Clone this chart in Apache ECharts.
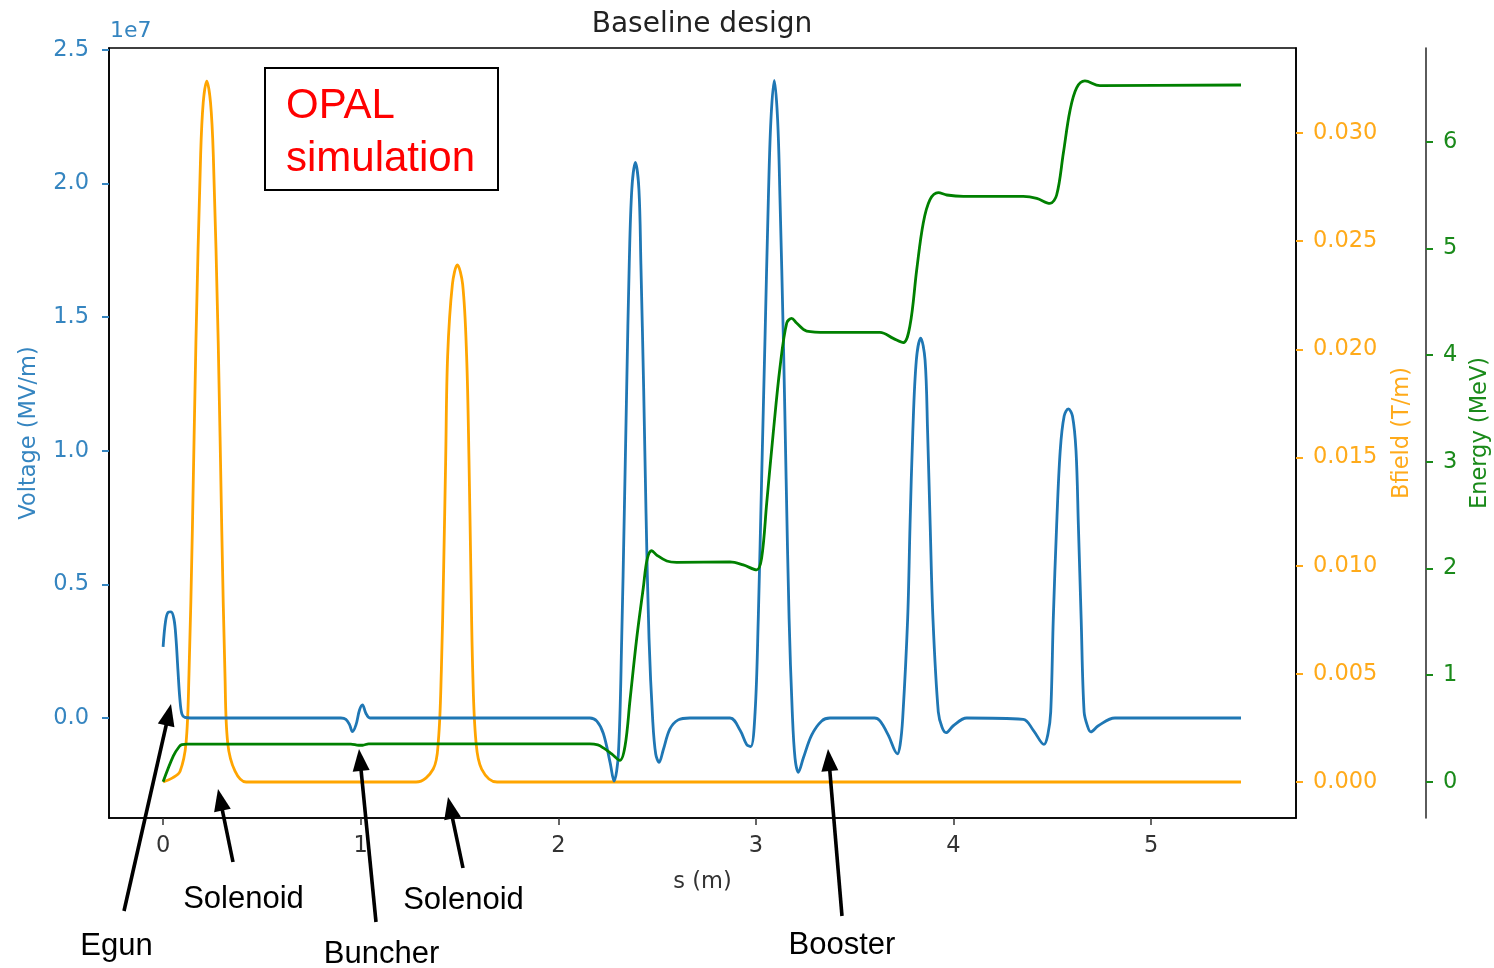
<!DOCTYPE html>
<html><head><meta charset="utf-8">
<script src="https://cdn.jsdelivr.net/npm/echarts@6/dist/echarts.min.js"></script>
<style>html,body{margin:0;padding:0;background:#fff;overflow:hidden}#c{width:1494px;height:968px}</style>
</head><body><div id="c"></div>
<script>
// ---------- data ----------
const TITLE = 'Baseline design';
const S_TICKS = [0, 1, 2, 3, 4, 5];
const VOLT_TICKS = [0, 0.5, 1.0, 1.5, 2.0, 2.5];          // in units of 1e7 V/m
const BFIELD_TICKS = [0, 0.005, 0.010, 0.015, 0.020, 0.025, 0.030];
const ENERGY_TICKS = [0, 1, 2, 3, 4, 5, 6];

// Voltage (x 1e7) vs s (m)
const voltage = [
  [0,0.266],[0.012,0.36],[0.025,0.395],[0.04,0.397],[0.055,0.37],[0.065,0.30],[0.075,0.18],[0.085,0.07],[0.095,0.015],[0.11,0.002],[0.14,0],
  [0.90,0],[0.925,-0.005],[0.944,-0.026],[0.958,-0.051],[0.976,-0.026],[0.994,0.03],[1.009,0.049],[1.026,0.018],[1.047,0],
  [2.16,0],[2.195,-0.012],[2.228,-0.058],[2.262,-0.166],[2.282,-0.236],[2.304,-0.135],[2.321,0.30],[2.334,0.766],[2.346,1.232],[2.359,1.698],[2.372,1.978],[2.390,2.079],[2.408,1.978],[2.418,1.698],[2.432,1.232],[2.444,0.766],[2.459,0.30],[2.478,-0.011],[2.493,-0.135],[2.510,-0.166],[2.531,-0.12],[2.565,-0.041],[2.607,-0.007],[2.666,0],
  [2.869,0],[2.920,-0.046],[2.953,-0.099],[2.974,-0.107],[2.996,0.023],[3.012,0.372],[3.029,0.895],[3.046,1.418],[3.063,1.941],[3.076,2.238],[3.093,2.386],[3.110,2.238],[3.122,1.941],[3.139,1.418],[3.153,0.895],[3.168,0.372],[3.184,0.023],[3.198,-0.15],[3.215,-0.203],[3.240,-0.15],[3.282,-0.064],[3.333,-0.011],[3.375,0],
  [3.600,0],[3.628,-0.011],[3.670,-0.064],[3.716,-0.134],[3.730,-0.10],[3.743,0],[3.768,0.372],[3.780,0.721],[3.794,1.07],[3.812,1.34],[3.834,1.422],[3.856,1.34],[3.869,1.07],[3.882,0.721],[3.896,0.372],[3.923,0.023],[3.942,-0.035],[3.962,-0.055],[3.999,-0.029],[4.067,0],
  [4.353,-0.005],[4.404,-0.046],[4.458,-0.099],[4.478,-0.06],[4.492,0.023],[4.505,0.372],[4.522,0.721],[4.540,1.0],[4.560,1.13],[4.581,1.157],[4.602,1.13],[4.620,1.0],[4.632,0.721],[4.646,0.372],[4.661,0.023],[4.678,-0.03],[4.695,-0.052],[4.733,-0.029],[4.817,0],[5.455,0]
];

// Bfield (T/m) vs s (m)
const bfield = [
  [0,0],[0.05,0.0002],[0.086,0.0005],[0.116,0.0018],[0.131,0.0050],[0.148,0.0116],[0.166,0.0203],[0.190,0.0290],[0.203,0.0314],[0.221,0.0324],[0.240,0.0314],[0.254,0.0290],[0.279,0.0203],[0.297,0.0116],[0.313,0.0050],[0.327,0.0018],[0.364,0.0005],[0.42,0],
  [1.28,0],[1.367,0.0006],[1.393,0.0019],[1.408,0.0051],[1.420,0.0100],[1.430,0.0149],[1.440,0.0197],[1.464,0.0230],[1.489,0.0239],[1.516,0.0230],[1.536,0.0197],[1.548,0.0149],[1.557,0.0100],[1.567,0.0051],[1.583,0.0019],[1.612,0.0006],[1.69,0],[5.455,0]
];

// Energy (MeV) vs s (m)
const energy = [
  [0,0],[0.052,0.243],[0.082,0.33],[0.095,0.348],[0.12,0.352],[0.95,0.352],[0.99,0.342],[1.01,0.342],[1.04,0.355],[2.16,0.355],[2.20,0.345],[2.228,0.317],[2.270,0.26],[2.312,0.20],[2.338,0.337],[2.363,0.766],[2.397,1.347],[2.430,1.816],[2.450,2.088],[2.473,2.165],[2.498,2.125],[2.549,2.069],[2.599,2.056],
  [2.869,2.06],[2.936,2.032],[3.004,1.986],[3.029,2.097],[3.055,2.619],[3.088,3.275],[3.122,3.885],[3.156,4.30],[3.181,4.343],[3.206,4.30],[3.257,4.225],[3.358,4.213],
  [3.628,4.213],[3.695,4.156],[3.746,4.116],[3.780,4.278],[3.814,4.802],[3.847,5.238],[3.881,5.456],[3.923,5.522],[3.966,5.50],[4.050,5.487],
  [4.353,5.487],[4.421,5.469],[4.488,5.421],[4.522,5.50],[4.556,5.894],[4.589,6.286],[4.623,6.504],[4.665,6.569],[4.741,6.526],[5.455,6.531]
];

// annotation overlay (pixel layout)
const ARROWS = [[124,911,171,704],[233,862,218,789],[376,922,359,749],[463,868,448,797],[842,916,828,749]];
const LABELS = [['Egun',116.5,946],['Solenoid',243.5,899],['Buncher',381.5,954],['Solenoid',463.5,900],['Booster',842,945]];

// ---------- styles ----------
const F = 'DejaVu Sans';
const A = 'Liberation Sans';
const BLUE = '#1f77b4', BLUE_T = '#3585c0';
const ORANGE = '#ffa500', ORANGE_T = '#ffaa1a';
const GREEN = '#008000', GREEN_T = '#1a8a1a';

const chart = echarts.init(document.getElementById('c'), null, {renderer:'canvas'});

function arrow(t) {
  const [x1,y1,x2,y2] = t;
  const dx = x2-x1, dy = y2-y1, len = Math.hypot(dx,dy);
  const ux = dx/len, uy = dy/len, nx = -uy, ny = ux;
  const L = 22, W = 8.5;
  const bx = x2-ux*L, by = y2-uy*L;
  return [
    {type:'line', shape:{x1:x1,y1:y1,x2:x2-ux*L*0.7,y2:y2-uy*L*0.7}, style:{stroke:'#000', lineWidth:3.6}, z:100},
    {type:'polygon', shape:{points:[[x2,y2],[bx+nx*W,by+ny*W],[bx-nx*W,by-ny*W]]}, style:{fill:'#000'}, z:100}
  ];
}

const graphics = [
  {type:'text', x:110, y:31, style:{text:'1e7', fontFamily:F, fontSize:22, fill:BLUE_T, verticalAlign:'middle', align:'left'}},
  {type:'text', x:702, y:25, style:{text:TITLE, fontFamily:F, fontSize:28, fill:'#222', align:'center', verticalAlign:'middle'}},
  {type:'rect', shape:{x:265, y:68, width:233, height:122}, style:{fill:'#fff', stroke:'#000', lineWidth:2}, z:50},
  {type:'text', x:286, y:106, style:{text:'OPAL', fontFamily:A, fontSize:42, fill:'#ff0000', align:'left', verticalAlign:'middle'}, z:51},
  {type:'text', x:286, y:159, style:{text:'simulation', fontFamily:A, fontSize:42, fill:'#ff0000', align:'left', verticalAlign:'middle'}, z:51}
];
ARROWS.forEach(a => graphics.push(...arrow(a)));
LABELS.forEach(l => graphics.push({type:'text', x:l[1], y:l[2], style:{text:l[0], fontFamily:A, fontSize:31, fill:'#000', align:'center', verticalAlign:'middle'}, z:100}));

const tickFont = {fontFamily:F, fontSize:22.5};

const option = {
  animation:false,
  backgroundColor:'#fff',
  grid:{left:109, top:48, right:198, bottom:150, show:true, borderColor:'#000', borderWidth:1.6, backgroundColor:'transparent', containLabel:false, outerBoundsMode:'none'},
  xAxis:{
    type:'value', min:-0.2738, max:5.7333,
    axisLine:{show:true, onZero:false, lineStyle:{color:'#000', width:1.6}},
    axisTick:{show:true, length:7, customValues:S_TICKS, lineStyle:{color:'#333', width:1.5}},
    axisLabel:Object.assign({customValues:S_TICKS, margin:17, color:'#333', formatter:v=>String(v)}, tickFont),
    splitLine:{show:false},
    name:'s (m)', nameLocation:'middle', nameGap:53,
    nameTextStyle:{fontFamily:F, fontSize:22.5, color:'#333'}
  },
  yAxis:[
    {
      type:'value', position:'left', min:-0.3743, max:2.5075,
      axisLine:{show:true, onZero:false, lineStyle:{color:'#000', width:1.6}},
      axisTick:{show:true, length:7, customValues:VOLT_TICKS, lineStyle:{color:BLUE_T, width:2}},
      axisLabel:Object.assign({customValues:VOLT_TICKS, margin:20, color:BLUE_T, formatter:v=>v.toFixed(1)}, tickFont),
      splitLine:{show:false},
      name:'Voltage (MV/m)', nameLocation:'middle', nameRotate:90, nameGap:68,
      nameTextStyle:{fontFamily:F, fontSize:22.5, color:BLUE_T}
    },
    {
      type:'value', position:'right', min:-0.001664, max:0.03393,
      axisLine:{show:true, onZero:false, lineStyle:{color:'#000', width:1.6}},
      axisTick:{show:true, length:7, customValues:BFIELD_TICKS, lineStyle:{color:ORANGE_T, width:2}},
      axisLabel:Object.assign({customValues:BFIELD_TICKS, margin:17, color:ORANGE_T, formatter:v=>v.toFixed(3)}, tickFont),
      splitLine:{show:false},
      name:'Bfield (T/m)', nameLocation:'middle', nameRotate:90, nameGap:95,
      nameTextStyle:{fontFamily:F, fontSize:22.5, color:ORANGE_T}
    },
    {
      type:'value', position:'right', offset:130, min:-0.340, max:6.878,
      axisLine:{show:true, onZero:false, lineStyle:{color:'#333', width:1.6}},
      axisTick:{show:true, length:7, customValues:ENERGY_TICKS, lineStyle:{color:GREEN_T, width:2}},
      axisLabel:Object.assign({customValues:ENERGY_TICKS, margin:17, color:GREEN_T, formatter:v=>String(v)}, tickFont),
      splitLine:{show:false},
      name:'Energy (MeV)', nameLocation:'middle', nameRotate:90, nameGap:37,
      nameTextStyle:{fontFamily:F, fontSize:22.5, color:GREEN_T}
    }
  ],
  series:[
    {name:'Bfield', type:'line', yAxisIndex:1, data:bfield, showSymbol:false, smooth:0.35, lineStyle:{color:ORANGE, width:2.8}, z:2},
    {name:'Voltage', type:'line', yAxisIndex:0, data:voltage, showSymbol:false, smooth:0.35, lineStyle:{color:BLUE, width:2.8}, z:3},
    {name:'Energy', type:'line', yAxisIndex:2, data:energy, showSymbol:false, smooth:0.35, lineStyle:{color:GREEN, width:2.8}, z:4}
  ],
  graphic:graphics
};
chart.setOption(option);
</script></body></html>
